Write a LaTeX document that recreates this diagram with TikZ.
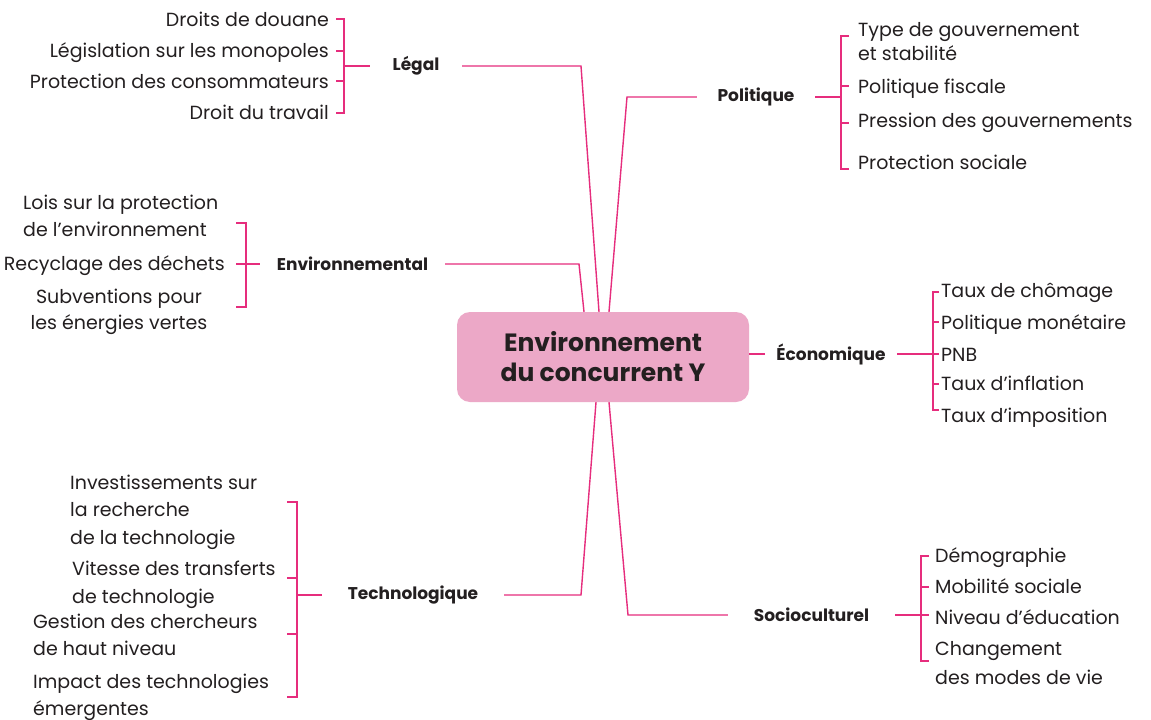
\documentclass[tikz,border=0pt]{standalone}
\usepackage{fontspec}
\setmainfont{Poppins}
\definecolor{pinkline}{RGB}{230,45,125}
\definecolor{pinkfill}{RGB}{236,168,199}
\definecolor{ink}{RGB}{35,31,32}
\begin{document}
\begin{tikzpicture}[x=1pt,y=-1pt,
  item/.style={inner sep=0pt, text=ink, font=\fontsize{19}{27}\selectfont},
  cat/.style={inner sep=0pt, text=ink, font=\fontsize{17}{20}\selectfont\bfseries, minimum height=18pt},
  link/.style={draw=pinkline, line width=1.4pt, line join=miter},
  hub/.style={fill=pinkfill, rounded corners=13pt, minimum width=292pt, minimum height=90pt, inner sep=0pt,
    text=ink, align=center, font=\fontsize{25}{30}\selectfont\bfseries}]
\useasboundingbox (0,0) rectangle (1151,720);
\fill[white] (0,0) rectangle (1151,720);

% centre
\node[hub] (hub) at (603,357) {\raisebox{-2pt}{\parbox{280pt}{\centering Environnement\\du concurrent Y}}};

% category labels
\node[cat, minimum width=92pt]  (legal) at (416,66)  {Légal};
\node[cat, minimum width=118pt] (poli)  at (756,97)  {Politique};
\node[cat, minimum width=185pt] (env)   at (352.5,264) {Environnemental};
\node[cat, minimum width=132pt] (eco)   at (831,354) {Économique};
\node[cat, minimum width=182pt] (tech)  at (413,595) {Technologique};
\node[cat, minimum width=167pt] (socio) at (811.5,615) {Socioculturel};

% corners of the connectors to the centre
\coordinate (kL) at (581,66);
\coordinate (kP) at (627,97);
\coordinate (kE) at (579,264);
\coordinate (kT) at (581,595);
\coordinate (kS) at (628,615);

\draw[link] (legal.east) -- (kL) -- ([xshift=-4pt]hub.north);
\draw[link] (poli.west) -- (kP) -- ([xshift=6pt]hub.north);
\draw[link] (env.east) -- (kE) -- ([xshift=-19pt]hub.north);
\draw[link] (tech.east) -- (kT) -- ([xshift=-7pt]hub.south);
\draw[link] (socio.west) -- (kS) -- ([xshift=6pt]hub.south);
\draw[link] ([yshift=3pt]hub.east) -- (eco.west);

% Légal
\node[item, anchor=base east] (l1) at (329,26)  {Droits de douane};
\node[item, anchor=base east] (l2) at (329,57)  {Législation sur les monopoles};
\node[item, anchor=base east] (l3) at (329,88)  {Protection des consommateurs};
\node[item, anchor=base east] (l4) at (329,119) {Droit du travail};
\coordinate (bL) at (344,66);
\draw[link] (336,19) -- (344,19) -- (344,113) -- (336,113);
\draw[link] (336,51) -- (344,51);
\draw[link] (336,81) -- (344,81);
\draw[link] (bL) -- (legal.west);

% Politique
\node[item, anchor=base west, align=left, font=\fontsize{19}{24}\selectfont] (p1) at (858,60) {Type de gouvernement\\et stabilité};
\node[item, anchor=base west] (p2) at (858,93)  {Politique fiscale};
\node[item, anchor=base west] (p3) at (858,127) {Pression des gouvernements};
\node[item, anchor=base west] (p4) at (858,169) {Protection sociale};
\coordinate (bP) at (841,97);
\draw[link] (849,36) -- (841,36) -- (841,169) -- (849,169);
\draw[link] (841,86) -- (849,86);
\draw[link] (841,123) -- (849,123);
\draw[link] (poli.east) -- (bP);

% Environnemental
\node[item, anchor=base west, align=left] (e1) at (23,236) {Lois sur la protection\\de l’environnement};
\node[item, anchor=base east] (e2) at (225,270) {Recyclage des déchets};
\node[item, anchor=base, align=center, font=\fontsize{19}{26}\selectfont] (e3) at (119,329) {Subventions pour\\les énergies vertes};
\coordinate (bE) at (246,264);
\draw[link] (236,223) -- (246,223) -- (246,307) -- (236,307);
\draw[link] (236,264) -- (env.west);

% Économique
\node[item, anchor=base west] (c1) at (941,297) {Taux de chômage};
\node[item, anchor=base west] (c2) at (941,329) {Politique monétaire};
\node[item, anchor=base west] (c3) at (941,361) {PNB};
\node[item, anchor=base west] (c4) at (941,390) {Taux d’inflation};
\node[item, anchor=base west] (c5) at (941,422) {Taux d’imposition};
\coordinate (bC) at (939,354);
\draw[link] (939,292) -- (933,292) -- (933,410) -- (939,410);
\draw[link] (933,322) -- (939,322);
\draw[link] (933,384) -- (939,384);
\draw[link] (eco.east) -- (bC);

% Technologique
\node[item, anchor=base west, align=left, font=\fontsize{19}{27.5}\selectfont] (t1) at (70,544) {Investissements sur\\la recherche\\de la technologie};
\node[item, anchor=base west, align=left, font=\fontsize{19}{28}\selectfont] (t2) at (72,603) {Vitesse des transferts\\de technologie};
\node[item, anchor=base west, align=left] (t3) at (33,655) {Gestion des chercheurs\\de haut niveau};
\node[item, anchor=base west, align=left] (t4) at (33,715) {Impact des technologies\\émergentes};
\coordinate (bT) at (297,595);
\draw[link] (287,502) -- (297,502) -- (297,697) -- (287,697);
\draw[link] (287,578) -- (297,578);
\draw[link] (287,634) -- (297,634);
\draw[link] (bT) -- (tech.west);

% Socioculturel
\node[item, anchor=base west] (s1) at (935,562) {Démographie};
\node[item, anchor=base west] (s2) at (935,593) {Mobilité sociale};
\node[item, anchor=base west] (s3) at (935,624) {Niveau d’éducation};
\node[item, anchor=base west, align=left, font=\fontsize{19}{29}\selectfont] (s4) at (935,684) {Changement\\des modes de vie};
\coordinate (bS) at (929,615);
\draw[link] (929,556) -- (921,556) -- (921,661) -- (929,661);
\draw[link] (921,587) -- (929,587);
\draw[link] (socio.east) -- (bS);
\end{tikzpicture}
\end{document}
